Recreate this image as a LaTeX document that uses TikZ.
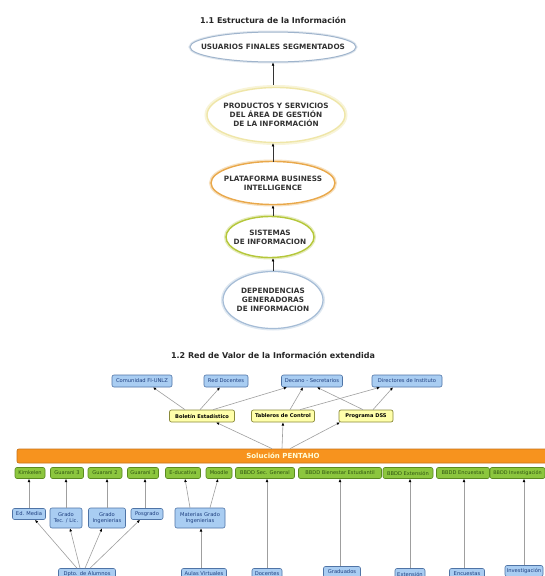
\documentclass[tikz,border=0pt]{standalone}
\usepackage{fontspec}
\setmainfont{DejaVu Sans}
\usetikzlibrary{shapes.geometric,arrows.meta}
\definecolor{blueF}{HTML}{A9CDF2}
\definecolor{blueB}{HTML}{4F74A6}
\definecolor{blueT}{HTML}{1F3F7F}
\definecolor{yelF}{HTML}{FFFFAA}
\definecolor{yelB}{HTML}{8A8A3A}
\definecolor{grnF}{HTML}{8CC63E}
\definecolor{grnB}{HTML}{5A8A20}
\definecolor{grnT}{HTML}{2E5410}
\definecolor{orgF}{HTML}{F7931E}
\definecolor{orgB}{HTML}{C8741A}
\definecolor{eA}{HTML}{9FB4CC}
\definecolor{eB}{HTML}{EFE6A8}
\definecolor{eC}{HTML}{E9A84A}
\definecolor{eD}{HTML}{B5C73A}
\definecolor{eE}{HTML}{A5BCD6}
\begin{document}
\begin{tikzpicture}[x=1pt,y=-1pt,
  ell/.style={ellipse, fill=white, inner sep=-14pt, align=center,
    font=\fontsize{7.3}{9}\selectfont\bfseries, text=black!80},
  title/.style={font=\fontsize{8}{9}\selectfont\bfseries, text=black!85},
  bluebox/.style={rectangle, rounded corners=2pt, draw=blueB, line width=0.6pt, fill=blueF,
    text=blueT, font=\fontsize{5.2}{6.2}\selectfont, inner sep=0.5pt, align=center, minimum height=11pt},
  yelbox/.style={rectangle, rounded corners=2pt, draw=yelB, line width=0.7pt, fill=yelF,
    text=black, font=\fontsize{5.1}{6}\selectfont\bfseries, inner sep=0.5pt, minimum height=12pt},
  grnbox/.style={rectangle, rounded corners=2pt, draw=grnB, line width=0.6pt, fill=grnF,
    text=grnT, font=\fontsize{5.1}{6}\selectfont, inner sep=0.5pt, minimum height=11pt},
  arr/.style={draw=gray!75, line width=0.6pt, -{Latex[length=3.2pt,width=2.8pt,color=black]}},
  earr/.style={draw=black!80, line width=0.5pt, -{Latex[length=3.2pt,width=2.8pt,color=black]}}
]
\useasboundingbox (0,0) rectangle (545,576);
\fill[white] (0,0) rectangle (545,576);

% ---------- Part 1.1 ----------
\node[title] (t1) at (273,20) {1.1 Estructura de la Información};
\node[ell, draw=eA, line width=1pt, preaction={draw=eA!35, line width=3pt},
  minimum width=166pt, minimum height=30pt] (e1) at (273,47) {USUARIOS FINALES SEGMENTADOS};
\node[ell, draw=eB, line width=1.4pt, preaction={draw=eB!45, line width=5pt},
  minimum width=138pt, minimum height=55pt] (e2) at (276,115) {PRODUCTOS Y SERVICIOS\\DEL ÁREA DE GESTIÓN\\DE LA INFORMACIÓN};
\node[ell, draw=eC, line width=1.4pt, preaction={draw=eC!35, line width=4pt},
  minimum width=124pt, minimum height=43pt] (e3) at (273,183) {PLATAFORMA BUSINESS\\INTELLIGENCE};
\node[ell, draw=eD, line width=1.4pt, preaction={draw=eD!35, line width=4pt},
  minimum width=88pt, minimum height=41pt] (e4) at (270,237) {SISTEMAS\\DE INFORMACION};
\node[ell, draw=eE, line width=1.2pt, preaction={draw=eE!35, line width=4pt},
  minimum width=100pt, minimum height=57pt] (e5) at (273,300) {DEPENDENCIAS\\GENERADORAS\\DE INFORMACION};

\draw[earr] (e2.north) ++(-3,-2) coordinate (c21) -- (c21 |- e1.south);
\draw[earr] ([yshift=-1pt]e3.north) -- (e3.north |- e2.south);
\draw[earr] (e4.north -| e3.south) -- (e3.south);
\draw[earr] (e5.north) -- (e5.north |- e4.south);

% ---------- Part 1.2 ----------
\node[title] (t2) at (273,355) {1.2 Red de Valor de la Información extendida};

\node[bluebox, minimum width=60pt, minimum height=12pt] (com) at (142,381) {Comunidad FI-UNLZ};
\node[bluebox, minimum width=44pt, minimum height=12pt] (red) at (226,381) {Red Docentes};
\node[bluebox, minimum width=61pt, minimum height=12pt] (dec) at (312,381) {Decano - Secretarios};
\node[bluebox, minimum width=70pt, minimum height=12pt] (dir) at (407,381) {Directores de Instituto};

\node[yelbox, minimum width=65pt] (bol) at (202,416) {Boletín Estadístico};
\node[yelbox, minimum width=63pt] (tab) at (283,416) {Tableros de Control};
\node[yelbox, minimum width=54pt] (dss) at (366,416) {Programa DSS};

\draw[arr] ([xshift=-17pt]bol.north) -- ([xshift=11pt]com.south);
\draw[arr] ([xshift=-2pt]bol.north) -- ([xshift=-6pt]red.south);
\draw[arr] ([xshift=11pt]bol.north) -- ([xshift=-25pt]dec.south);
\draw[arr] ([xshift=7pt]tab.north) -- ([xshift=-9pt]dec.south);
\draw[arr] ([xshift=17pt]tab.north) -- ([xshift=-27pt]dir.south);
\draw[arr] ([xshift=-3pt]dss.north) -- ([xshift=5pt]dec.south);
\draw[arr] ([xshift=7pt]dss.north) -- ([xshift=-14pt]dir.south);

\node[rectangle, rounded corners=2pt, draw=orgB, line width=0.7pt, fill=orgF,
  minimum width=532pt, minimum height=14pt, inner sep=0pt,
  text=yellow!15, font=\fontsize{7}{8}\selectfont\bfseries] (pent) at (283,456) {Solución PENTAHO};

\draw[arr] ([xshift=-11pt]pent.north) -- ([xshift=14pt]bol.south);
\draw[arr] ([xshift=-1pt]pent.north) -- (tab.south);
\draw[arr] ([xshift=7pt]pent.north) -- ([xshift=-26pt]dss.south);

% green row
\node[grnbox, minimum width=30pt] (kim) at (30,473) {Kimkelen};
\node[grnbox, minimum width=33pt] (g3a) at (67,473) {Guarani 3};
\node[grnbox, minimum width=34pt] (g2) at (105,473) {Guarani 2};
\node[grnbox, minimum width=31pt] (g3b) at (143,473) {Guarani 3};
\node[grnbox, minimum width=35pt] (educ) at (183,473) {E-ducativa};
\node[grnbox, minimum width=26pt] (moo) at (219,473) {Moodle};
\node[grnbox, minimum width=59pt] (sec) at (265,473) {BBDD Sec. General};
\node[grnbox, minimum width=83pt] (bien) at (340,473) {BBDD Bienestar Estudiantil};
\node[grnbox, minimum width=50pt] (ext) at (408,473) {BBDD Extensión};
\node[grnbox, minimum width=53pt] (enc) at (463,473) {BBDD Encuestas};
\node[grnbox, minimum width=55pt, font=\fontsize{4.9}{6}\selectfont] (inv) at (517.5,473) {BBDD Investigación};

% middle blue row
\node[bluebox, minimum width=33pt] (edm) at (29,514) {Ed. Media};
\node[bluebox, minimum width=32pt, minimum height=20pt] (gtl) at (66,518) {Grado\\Tec. / Lic.};
\node[bluebox, minimum width=37pt, minimum height=20pt] (gin) at (107,518) {Grado\\Ingenierias};
\node[bluebox, minimum width=32pt] (pos) at (147,514) {Posgrado};
\node[bluebox, minimum width=50pt, minimum height=20pt] (mat) at (200,518) {Materias Grado\\Ingenierias};

% bottom row
\node[bluebox, minimum width=57pt] (dpto) at (87,574) {Dpto. de Alumnos};
\node[bluebox, minimum width=45pt] (aulas) at (204,574) {Aulas Virtuales};
\node[bluebox, minimum width=30pt] (doc) at (267,574) {Docentes};
\node[bluebox, minimum width=37pt] (grad) at (342,572) {Graduados};
\node[bluebox, minimum width=30pt] (extn) at (410,574) {Extensión};
\node[bluebox, minimum width=35pt] (encn) at (467,574) {Encuestas};
\node[bluebox, minimum width=38pt] (invn) at (524,571) {Investigación};

% arrows to green row
\draw[arr] (edm.north) -- (edm.north |- kim.south);
\draw[arr] (gtl.north) -- (gtl.north |- g3a.south);
\draw[arr] (gin.north) -- (gin.north |- g2.south);
\draw[arr] ([xshift=-2pt]pos.north) -- ([xshift=-2pt]pos.north |- g3b.south);
\draw[arr] ([xshift=-10pt]mat.north) -- ([xshift=2pt]educ.south);
\draw[arr] ([xshift=10pt]mat.north) -- ([xshift=-1pt]moo.south);
\draw[arr] ([xshift=-3pt]aulas.north) -- ([xshift=-3pt]aulas.north |- mat.south);
\draw[arr] (doc.north) -- (doc.north |- sec.south);
\draw[arr] ([xshift=-2pt]grad.north) -- ([xshift=-2pt]grad.north |- bien.south);
\draw[arr] (extn.north) -- (extn.north |- ext.south);
\draw[arr] ([xshift=-3pt]encn.north) -- ([xshift=-3pt]encn.north |- enc.south);
\draw[arr] (invn.north) -- (invn.north |- inv.south);

% Dpto de Alumnos fan-out
\draw[arr] ([xshift=-10pt]dpto.north) -- ([xshift=6pt]edm.south);
\draw[arr] ([xshift=-7pt]dpto.north) -- ([xshift=4pt]gtl.south);
\draw[arr] ([xshift=-2pt]dpto.north) -- ([xshift=-5pt]gin.south);
\draw[arr] ([xshift=3pt]dpto.north) -- ([xshift=-7pt]pos.south);
\end{tikzpicture}
\end{document}
